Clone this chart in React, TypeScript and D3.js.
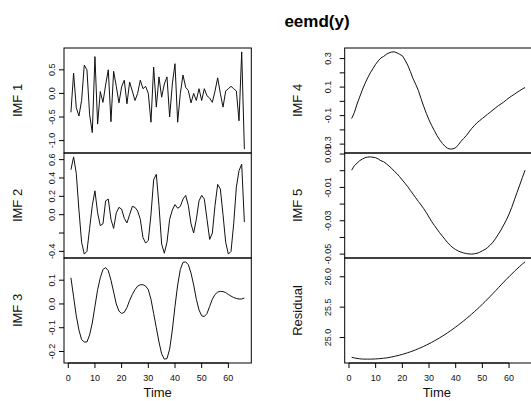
import React, { useEffect, useRef } from 'react';
import * as d3 from 'd3';

// eemd(y) decomposition, 66 time steps
const imf1 = [
  -0.40, 0.43, -0.30, -0.48, -0.15, 0.60, 0.50, -0.45, -0.83, 0.78,
  -0.65, 0.04, -0.19, 0.18, 0.50, -0.60, 0.47, 0.15, -0.20, 0.14,
  0.28, -0.22, 0.24, 0.05, -0.15, 0.00, 0.28, 0.10, 0.15, 0.00,
  -0.61, 0.56, -0.29, 0.35, -0.08, 0.20, 0.35, -0.50, 0.20, 0.63,
  -0.61, 0.00, 0.39, 0.13, 0.06, -0.20, 0.00, -0.15, 0.10, -0.15,
  0.10, -0.05, -0.10, -0.19, 0.05, 0.33, 0.00, -0.29, 0.05, 0.10,
  0.15, 0.10, 0.05, -0.58, 0.88, -1.18,
];
const imf2 = [
  0.49, 0.63, 0.45, 0.05, -0.30, -0.43, -0.40, -0.15, 0.10, 0.26,
  0.02, -0.12, -0.10, 0.15, 0.17, -0.05, -0.15, 0.02, 0.08, 0.06,
  -0.04, -0.09, 0.00, 0.09, 0.08, 0.04, -0.05, -0.25, -0.31, -0.28,
  0.00, 0.38, 0.44, 0.10, -0.32, -0.42, -0.30, -0.05, 0.05, 0.11,
  0.07, 0.09, 0.17, 0.21, 0.10, -0.10, -0.20, -0.05, 0.15, 0.21,
  0.17, -0.05, -0.27, -0.20, 0.10, 0.33, 0.28, 0.00, -0.30, -0.43,
  -0.40, -0.10, 0.30, 0.48, 0.55, -0.08,
];
const imf3 = [
  0.11, 0.03, -0.05, -0.11, -0.15, -0.16, -0.16, -0.13, -0.08, -0.01,
  0.06, 0.11, 0.145, 0.153, 0.14, 0.10, 0.05, 0.00, -0.03, -0.04,
  -0.035, -0.015, 0.015, 0.04, 0.06, 0.075, 0.081, 0.081, 0.075, 0.06,
  0.02, -0.04, -0.10, -0.16, -0.21, -0.232, -0.23, -0.19, -0.11, -0.01,
  0.08, 0.145, 0.175, 0.177, 0.165, 0.13, 0.08, 0.02, -0.025, -0.05,
  -0.053, -0.04, -0.01, 0.02, 0.04, 0.05, 0.053, 0.052, 0.048, 0.04,
  0.033, 0.027, 0.023, 0.021, 0.021, 0.025,
];
const imf4 = [
  -0.12, -0.08, -0.02, 0.03, 0.08, 0.125, 0.165, 0.20, 0.23, 0.26,
  0.285, 0.305, 0.315, 0.33, 0.34, 0.346, 0.347, 0.34, 0.33, 0.32,
  0.29, 0.255, 0.21, 0.16, 0.12, 0.077, 0.02, -0.035, -0.085, -0.13,
  -0.17, -0.205, -0.24, -0.27, -0.295, -0.315, -0.33, -0.335, -0.333, -0.325,
  -0.305, -0.28, -0.26, -0.24, -0.215, -0.19, -0.17, -0.15, -0.135, -0.12,
  -0.105, -0.09, -0.075, -0.06, -0.045, -0.03, -0.018, -0.005, 0.01, 0.025,
  0.038, 0.05, 0.063, 0.075, 0.087, 0.097,
];
const imf5 = [
  0.0003, 0.003, 0.0045, 0.006, 0.007, 0.0078, 0.0082, 0.0083, 0.0081, 0.0078,
  0.007, 0.006, 0.0054, 0.0042, 0.0028, 0.0014, -0.0003, -0.0018, -0.0036, -0.0056,
  -0.0075, -0.0095, -0.0118, -0.014, -0.0162, -0.0184, -0.0205, -0.0227, -0.0252, -0.0278,
  -0.0305, -0.0328, -0.035, -0.0372, -0.0392, -0.0412, -0.0432, -0.0448, -0.0462, -0.0473,
  -0.0482, -0.0488, -0.0493, -0.0497, -0.0499, -0.05, -0.0498, -0.0495, -0.0489, -0.048,
  -0.0472, -0.046, -0.0445, -0.0428, -0.0405, -0.038, -0.0355, -0.0325, -0.0295, -0.026,
  -0.022, -0.0175, -0.013, -0.0086, -0.004, 0.0003,
];
const residual = [
  24.675, 24.665, 24.656, 24.65, 24.646, 24.645, 24.645, 24.645, 24.646, 24.648,
  24.651, 24.655, 24.659, 24.665, 24.672, 24.68, 24.69, 24.70, 24.711, 24.723,
  24.736, 24.75, 24.765, 24.781, 24.798, 24.816, 24.835, 24.855, 24.876, 24.898,
  24.921, 24.945, 24.97, 24.996, 25.023, 25.051, 25.08, 25.11, 25.141, 25.173,
  25.206, 25.24, 25.275, 25.311, 25.348, 25.386, 25.425, 25.465, 25.506, 25.548,
  25.591, 25.635, 25.68, 25.726, 25.772, 25.819, 25.866, 25.913, 25.96, 26.0,
  26.045, 26.09, 26.13, 26.17, 26.21, 26.245,
];

const imf1Ticks = [-1.0, -0.5, 0.0, 0.5];
const imf1Labels = ['-1.0', '-0.5', '0.0', '0.5'];
const imf2Ticks = [-0.4, -0.2, 0.0, 0.2, 0.4, 0.6];
const imf2Labels = ['-0.4', '', '0.0', '0.2', '0.4', '0.6'];
const imf3Ticks = [-0.2, -0.1, 0.0, 0.1];
const imf3Labels = ['-0.2', '-0.1', '0.0', '0.1'];
const imf4Ticks = [-0.3, -0.2, -0.1, 0.0, 0.1, 0.2, 0.3];
const imf4Labels = ['-0.3', '', '-0.1', '', '0.1', '', '0.3'];
const imf5Ticks = [-0.05, -0.04, -0.03, -0.02, -0.01, 0.0, 0.01];
const imf5Labels = ['-0.05', '', '-0.03', '', '-0.01', '', '0.01'];
const residTicks = [25.0, 25.5, 26.0];
const residLabels = ['25.0', '25.5', '26.0'];
const timeTicks = [0, 10, 20, 30, 40, 50, 60];

const title = 'eemd(y)';
const font = '"Liberation Sans", Arial, sans-serif';

const App = () => {
  const svgRef = useRef(null);
  const width = 531;
  const height = 401;

  useEffect(() => {
    document.body.style.margin = '0';
    const svg = d3.select(svgRef.current);
    svg.selectAll('*').remove();

    const panels = [
      { name: 'IMF 1', values: imf1, ticks: imf1Ticks, labels: imf1Labels, col: 0, row: 0 },
      { name: 'IMF 2', values: imf2, ticks: imf2Ticks, labels: imf2Labels, col: 0, row: 1 },
      { name: 'IMF 3', values: imf3, ticks: imf3Ticks, labels: imf3Labels, col: 0, row: 2 },
      { name: 'IMF 4', values: imf4, ticks: imf4Ticks, labels: imf4Labels, col: 1, row: 0 },
      { name: 'IMF 5', values: imf5, ticks: imf5Ticks, labels: imf5Labels, col: 1, row: 1 },
      { name: 'Residual', values: residual, ticks: residTicks, labels: residLabels, col: 1, row: 2 },
    ];

    const cols = [
      { x0: 64, x1: 251.3, tickX: 54.5, labelX: 22 },
      { x0: 344.7, x1: 532, tickX: 330.5, labelX: 301.5 },
    ];
    const top = 48;
    const rowH = 105;

    svg.append('text')
      .attr('x', 317)
      .attr('y', 27)
      .attr('text-anchor', 'middle')
      .attr('font-family', font)
      .attr('font-weight', 'bold')
      .attr('font-size', 17)
      .text(title);

    panels.forEach(p => {
      const c = cols[p.col];
      const y0 = top + p.row * rowH;
      const y1 = y0 + rowH;
      const time = p.values.map((_, i) => i + 1);

      const [tmin, tmax] = d3.extent(time);
      const tpad = (tmax - tmin) * 0.04;
      const x = d3.scaleLinear().domain([tmin - tpad, tmax + tpad]).range([c.x0, c.x1]);

      const [vmin, vmax] = d3.extent(p.values);
      const vpad = (vmax - vmin) * 0.04;
      const y = d3.scaleLinear().domain([vmin - vpad, vmax + vpad]).range([y1, y0]);

      const g = svg.append('g');

      g.append('path')
        .datum(p.values)
        .attr('fill', 'none')
        .attr('stroke', '#111')
        .attr('stroke-width', 1)
        .attr('d', d3.line().x((d, i) => x(time[i])).y(d => y(d)));

      g.append('rect')
        .attr('x', c.x0)
        .attr('y', y0)
        .attr('width', c.x1 - c.x0)
        .attr('height', rowH)
        .attr('fill', 'none')
        .attr('stroke', '#000')
        .attr('stroke-width', 1);

      // y axis ticks
      p.ticks.forEach((t, i) => {
        const ty = y(t);
        g.append('line')
          .attr('x1', c.x0).attr('x2', c.x0 - 5)
          .attr('y1', ty).attr('y2', ty)
          .attr('stroke', '#000');
        if (p.labels[i]) {
          g.append('text')
            .attr('transform', `translate(${c.tickX},${ty}) rotate(-90)`)
            .attr('text-anchor', 'middle')
            .attr('font-family', font)
            .attr('font-size', 9)
            .attr('fill', '#111')
            .text(p.labels[i]);
        }
      });

      g.append('text')
        .attr('transform', `translate(${c.labelX},${(y0 + y1) / 2}) rotate(-90)`)
        .attr('text-anchor', 'middle')
        .attr('font-family', font)
        .attr('font-size', 13)
        .attr('fill', '#111')
        .text(p.name);

      // time axis on bottom row
      if (p.row === 2) {
        g.append('line')
          .attr('x1', x(timeTicks[0])).attr('x2', x(timeTicks[timeTicks.length - 1]))
          .attr('y1', y1).attr('y2', y1)
          .attr('stroke', '#000');
        timeTicks.forEach(t => {
          g.append('line')
            .attr('x1', x(t)).attr('x2', x(t))
            .attr('y1', y1).attr('y2', y1 + 5)
            .attr('stroke', '#000');
          g.append('text')
            .attr('x', x(t))
            .attr('y', y1 + 18)
            .attr('text-anchor', 'middle')
            .attr('font-family', font)
            .attr('font-size', 9)
            .attr('fill', '#111')
            .text(t);
        });
        g.append('text')
          .attr('x', (c.x0 + Math.min(c.x1, width)) / 2 + (p.col === 1 ? -1 : 0))
          .attr('y', y1 + 34)
          .attr('text-anchor', 'middle')
          .attr('font-family', font)
          .attr('font-size', 13)
          .attr('fill', '#111')
          .text('Time');
      }
    });
  }, []);

  return (
    <svg ref={svgRef} width={width} height={height} style={{ display: 'block', background: '#fff' }}></svg>
  );
};

export default App;
